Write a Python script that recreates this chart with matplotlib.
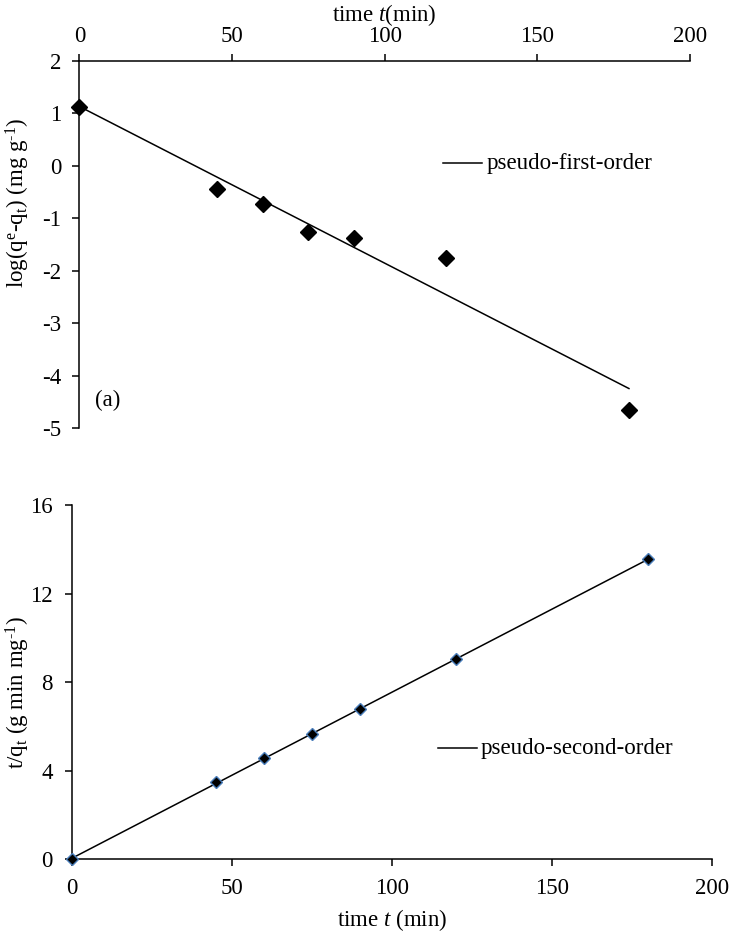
import numpy as np
import matplotlib
matplotlib.use("Agg")
import matplotlib.pyplot as plt
from matplotlib.lines import Line2D

plt.rcParams["font.family"] = ["Liberation Serif", "DejaVu Serif"]
plt.rcParams["mathtext.fontset"] = "custom"
plt.rcParams["mathtext.rm"] = "Liberation Serif"
plt.rcParams["mathtext.it"] = "Liberation Serif:italic"
plt.rcParams["axes.unicode_minus"] = False

# Kinetic data
time_min = [0, 45, 60, 75, 90, 120, 180]
log_qe_minus_qt = [1.13, -0.45, -0.73, -1.27, -1.38, -1.76, -4.65]
t_over_qt = [0.0, 3.46, 4.57, 5.65, 6.79, 9.02, 13.55]

first_ticks = [0, 50, 100, 150, 200]
first_yticks = [-5, -4, -3, -2, -1, 0, 1, 2]
second_yticks = [0, 4, 8, 12, 16]

FS = 16.5

fig = plt.figure(figsize=(7.29, 9.33), dpi=100)

t = np.array(time_min, dtype=float)

# ---- (a) pseudo-first-order ----
ax1 = fig.add_axes([0.109, 0.5413, 0.8375, 0.3933])
k1, b1 = np.polyfit(t, log_qe_minus_qt, 1)
tt = np.array([t.min(), t.max()])
ax1.plot(tt, k1 * tt + b1, color="black", lw=1.1, clip_on=False)
ax1.plot(t, log_qe_minus_qt, linestyle="none", marker="D", ms=8,
         mfc="black", mec="black", clip_on=False, zorder=3)
ax1.set_xlim(0, 200)
ax1.set_ylim(-5, 2)
ax1.set_xticks(first_ticks)
ax1.set_yticks(first_yticks)
ax1.xaxis.tick_top()
for s in ("bottom", "right"):
    ax1.spines[s].set_visible(False)
for s in ("top", "left"):
    ax1.spines[s].set_linewidth(1.1)
ax1.tick_params(axis="both", direction="out", length=5, width=1.1,
                labelsize=FS, pad=8)
ax1.tick_params(axis="x", pad=5)
ax1.add_line(Line2D([119, 132], [0.05, 0.05], color="black", lw=1.1))
ax1.text(133.3, 0.05, "pseudo-first-order", fontsize=FS, va="center", ha="left")
ax1.text(5, -4.47, "(a)", fontsize=FS, va="center", ha="left")
fig.text(0.527, 0.984, r"time $\it{t}$(min)", fontsize=FS, ha="center", va="center")
fig.text(0.025, 1 - 203 / 933,
         r"log(q$^{\mathrm{e}}$-q$_{\mathrm{t}}$) (mg g$^{\text{-1}}$)",
         fontsize=FS, rotation=90, ha="center", va="center")

# ---- (b) pseudo-second-order ----
ax2 = fig.add_axes([0.0988, 0.0793, 0.878, 0.3794])
k2, b2 = np.polyfit(t, t_over_qt, 1)
ax2.plot(tt, k2 * tt + b2, color="black", lw=1.1, clip_on=False)
ax2.plot(t, t_over_qt, linestyle="none", marker="D", ms=6.5,
         mfc="black", mec="#4a7ebb", mew=1.0, clip_on=False, zorder=3)
ax2.set_xlim(0, 200)
ax2.set_ylim(0, 16)
ax2.set_xticks(first_ticks)
ax2.set_yticks(second_yticks)
for s in ("top", "right"):
    ax2.spines[s].set_visible(False)
for s in ("bottom", "left"):
    ax2.spines[s].set_linewidth(1.1)
ax2.tick_params(axis="both", direction="out", length=5, width=1.1,
                labelsize=FS, pad=9)
ax2.add_line(Line2D([114.5, 126.5], [5.0, 5.0], color="black", lw=1.1))
ax2.text(127.8, 5.0, "pseudo-second-order", fontsize=FS, va="center", ha="left")
fig.text(0.538, 1 - 920 / 933, r"time $\it{t}$ (min)", fontsize=FS, ha="center", va="center")
fig.text(0.025, 1 - 692 / 933, r"t/q$_{\mathrm{t}}$ (g min mg$^{\text{-1}}$)",
         fontsize=FS, rotation=90, ha="center", va="center")

fig.savefig("out.png", dpi=100)
